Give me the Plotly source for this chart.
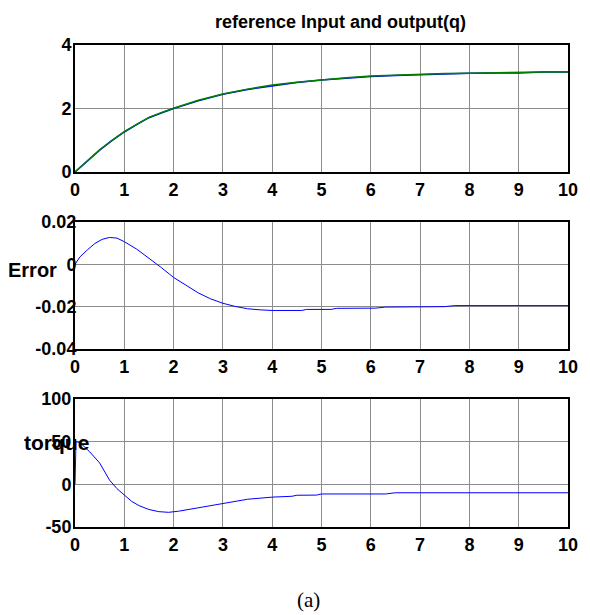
import plotly.graph_objects as go
from plotly.subplots import make_subplots

# reference input / output q
t_q = [0, 0.25, 0.5, 0.75, 1, 1.25, 1.5, 1.75, 2, 2.5, 3, 3.5, 4, 4.5, 5,
       5.5, 6, 6.5, 7, 7.5, 8, 8.5, 9, 9.5, 10]
q_ref = [0, 0.36, 0.70, 1.00, 1.27, 1.50, 1.72, 1.87, 2.01, 2.26, 2.46, 2.61,
         2.74, 2.83, 2.91, 2.97, 3.02, 3.05, 3.08, 3.10, 3.11, 3.13, 3.13,
         3.15, 3.15]
q_out = [0, 0.35, 0.69, 0.99, 1.26, 1.49, 1.71, 1.86, 2.00, 2.24, 2.45, 2.60,
         2.72, 2.82, 2.90, 2.96, 3.01, 3.04, 3.07, 3.09, 3.11, 3.12, 3.12,
         3.15, 3.15]

# error
t_err = [0, 0.1, 0.25, 0.4, 0.55, 0.7, 0.85, 1, 1.25, 1.5, 1.75, 2, 2.25, 2.5,
         2.75, 3, 3.25, 3.5, 3.75, 4, 4.6, 4.7, 5.2, 5.3, 6.1, 6.3, 7.5, 7.7, 10]
err = [0, 0.0035, 0.0068, 0.0098, 0.0118, 0.0127, 0.0124, 0.0107, 0.0072,
       0.0030, -0.0015, -0.0062, -0.0100, -0.0135, -0.0163, -0.0184, -0.0199,
       -0.0210, -0.0215, -0.0218, -0.0218, -0.0213, -0.0213, -0.0208, -0.0207,
       -0.0202, -0.0200, -0.0195, -0.0195]

# torque
t_tau = [0, 0.02, 0.1, 0.3, 0.5, 0.7, 0.85, 1, 1.15, 1.3, 1.5, 1.7, 1.9, 2.1,
         2.5, 3, 3.5, 4, 4.4, 4.5, 4.9, 5, 6.3, 6.5, 10]
torque = [0, 50, 49, 38, 25, 5, -5, -12.5, -20, -25, -29.5, -32, -32.8, -31.5,
          -27.5, -21.8, -17.5, -15, -14, -12.8, -12.6, -11.3, -11.3, -9.9, -9.9]

x_ticks = list(range(0, 11))

fig = make_subplots(rows=3, cols=1, vertical_spacing=0.1)

fig.add_trace(go.Scatter(x=t_q, y=q_out, mode='lines',
                         line=dict(color='#0000ff', width=1.5)), row=1, col=1)
fig.add_trace(go.Scatter(x=t_q, y=q_ref, mode='lines',
                         line=dict(color='#008000', width=1.5)), row=1, col=1)
fig.add_trace(go.Scatter(x=t_err, y=err, mode='lines',
                         line=dict(color='#0000ff', width=1)), row=2, col=1)
fig.add_trace(go.Scatter(x=t_tau, y=torque, mode='lines',
                         line=dict(color='#0000ff', width=1)), row=3, col=1)

tick_font = dict(family='Liberation Sans, Arial', size=18, color='black',
                 weight='bold')
axis_common = dict(showline=True, linecolor='black', linewidth=2, mirror=True,
                   showgrid=True, gridcolor='#8c8c8c', gridwidth=1,
                   zeroline=False, ticks='', tickfont=tick_font)

domains = [[0.7365, 1.0], [0.3693, 0.6328], [0.0, 0.2656]]
yranges = [[0, 4], [-0.04, 0.02], [-50, 100]]
yticks = [[0, 2, 4], [-0.04, -0.02, 0, 0.02], [-50, 0, 50, 100]]
ytext = [['0', '2', '4'], ['-0.04', '-0.02', '0', '0.02'],
         ['-50', '0', '50', '100']]
ystand = [-2, -7, -2]

for i in range(3):
    fig.update_xaxes(range=[0, 10], tickvals=x_ticks, **axis_common,
                     row=i + 1, col=1)
    fig.update_yaxes(range=yranges[i], tickvals=yticks[i], ticktext=ytext[i],
                     domain=domains[i], ticklabelstandoff=ystand[i],
                     **axis_common, row=i + 1, col=1)

fig.add_annotation(text='reference Input and output(q)', xref='paper',
                   yref='paper', x=0.539, y=1.048, xanchor='center',
                   yanchor='middle', showarrow=False,
                   font=dict(family='Liberation Sans, Arial', size=18,
                             color='black', weight='bold'))
fig.add_annotation(text='Error', xref='paper', yref='paper', x=-0.032,
                   y=0.533, xanchor='right', yanchor='middle',
                   showarrow=False,
                   font=dict(family='Liberation Sans, Arial', size=20,
                             color='black', weight='bold'))
fig.add_annotation(text='torque', xref='paper', yref='paper', x=0.032,
                   y=0.176, xanchor='right', yanchor='middle',
                   showarrow=False,
                   font=dict(family='Liberation Sans, Arial', size=21,
                             color='black', weight='bold'))
fig.add_annotation(text='(a)', xref='paper', yref='paper', x=0.474,
                   y=-0.152, xanchor='center', yanchor='middle',
                   showarrow=False,
                   font=dict(family='Liberation Serif, Times New Roman',
                             size=21, color='black'))

# the page adds an 8px body margin, so the figure is 8px smaller than the window
fig.update_layout(
    width=582, height=607,
    margin=dict(l=67, r=14, t=37, b=88),
    showlegend=False,
    plot_bgcolor='white', paper_bgcolor='white',
)

fig.write_html("out.html")
